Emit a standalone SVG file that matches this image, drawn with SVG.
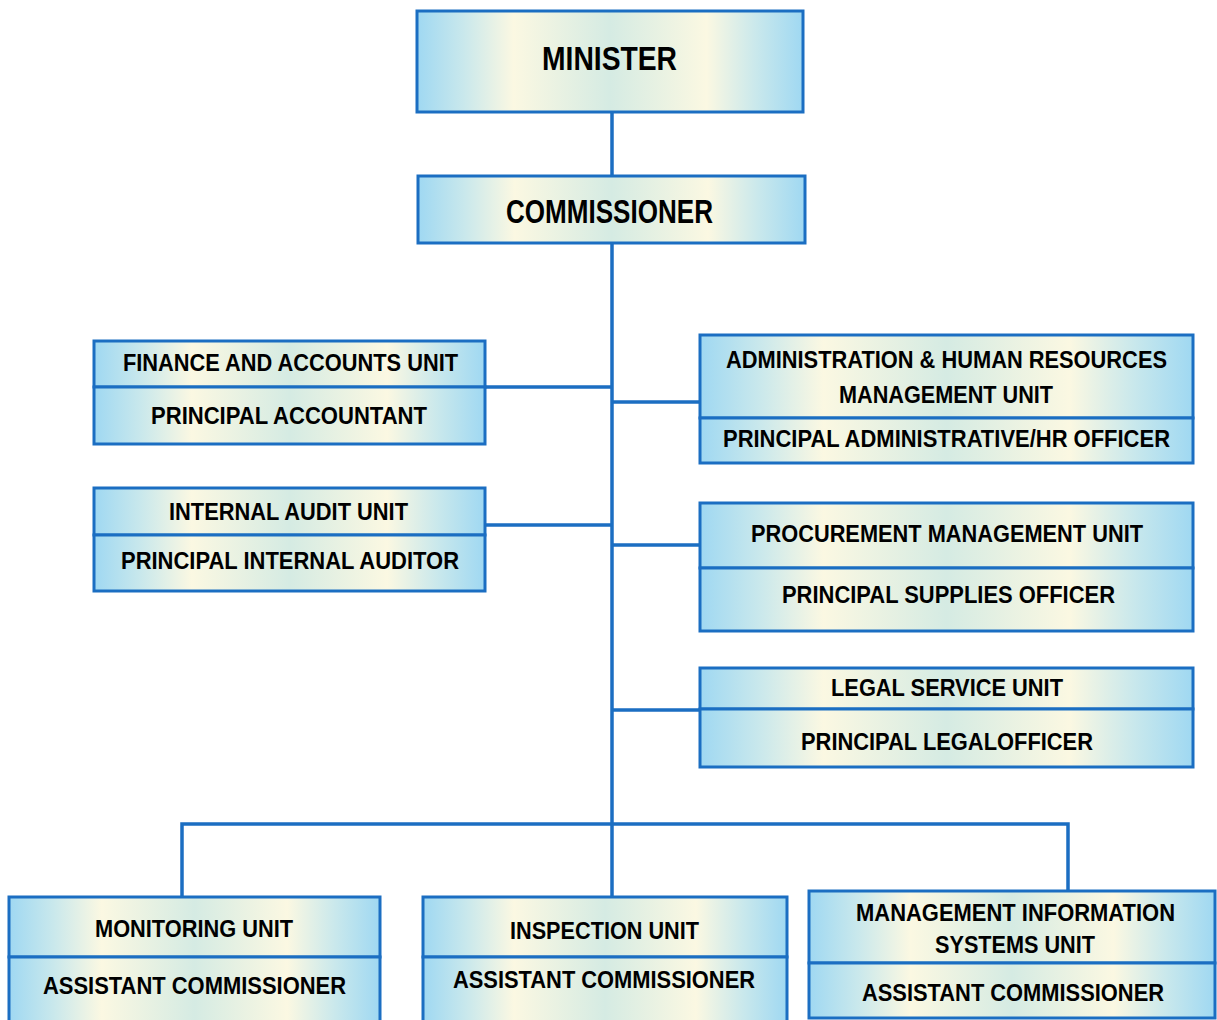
<svg xmlns="http://www.w3.org/2000/svg" width="1217" height="1020" viewBox="0 0 1217 1020">
<defs>
<linearGradient id="g" x1="0" y1="0" x2="1" y2="0">
<stop offset="0" stop-color="#9fd8f2"/>
<stop offset="0.12" stop-color="#c9e8ec"/>
<stop offset="0.25" stop-color="#fbf8e2"/>
<stop offset="0.5" stop-color="#d5ebe3"/>
<stop offset="0.75" stop-color="#fbf8e2"/>
<stop offset="0.88" stop-color="#c9e8ec"/>
<stop offset="1" stop-color="#9fd8f2"/>
</linearGradient>
</defs>
<style>
.box{fill:url(#g);stroke:#1b6ec2;stroke-width:3}
.div{stroke:#1b6ec2;stroke-width:3;fill:none}
.c{stroke:#1b6ec2;stroke-width:3.5;fill:none}
text{font-family:"Liberation Sans",Arial,sans-serif;font-weight:bold;fill:#000;text-anchor:middle;font-size:24px}
.big{font-size:33px}
</style>
<rect width="1217" height="1020" fill="#fff"/>
<g id="connectors">
<path class="c" d="M612 112V176M612 243V897M485 387H612M485 525H612M612 402H700M612 545H700M612 710H700M182 897V824H1068V891"/>
</g>
<g id="minister">
<rect class="box" x="417" y="11" width="386" height="101"/>
<text class="big" x="609.5" y="70" textLength="135" lengthAdjust="spacingAndGlyphs">MINISTER</text>
</g>
<g id="commissioner">
<rect class="box" x="418" y="176" width="387" height="67"/>
<text class="big" x="609.5" y="223" textLength="207" lengthAdjust="spacingAndGlyphs">COMMISSIONER</text>
</g>
<g id="finance">
<rect class="box" x="94" y="341" width="391" height="46"/>
<rect class="box" x="94" y="387" width="391" height="57"/>
<text x="290.5" y="371" textLength="335" lengthAdjust="spacingAndGlyphs">FINANCE AND ACCOUNTS UNIT</text>
<text x="289" y="424" textLength="276" lengthAdjust="spacingAndGlyphs">PRINCIPAL ACCOUNTANT</text>
</g>
<g id="audit">
<rect class="box" x="94" y="488" width="391" height="47"/>
<rect class="box" x="94" y="535" width="391" height="56"/>
<text x="288.5" y="520" textLength="239" lengthAdjust="spacingAndGlyphs">INTERNAL AUDIT UNIT</text>
<text x="290" y="569" textLength="338" lengthAdjust="spacingAndGlyphs">PRINCIPAL INTERNAL AUDITOR</text>
</g>
<g id="admin">
<rect class="box" x="700" y="335" width="493" height="83"/>
<rect class="box" x="700" y="418" width="493" height="45"/>
<text x="946.5" y="368" textLength="441" lengthAdjust="spacingAndGlyphs">ADMINISTRATION &amp; HUMAN RESOURCES</text>
<text x="946" y="403" textLength="214" lengthAdjust="spacingAndGlyphs">MANAGEMENT UNIT</text>
<text x="946.5" y="447" textLength="447" lengthAdjust="spacingAndGlyphs">PRINCIPAL ADMINISTRATIVE/HR OFFICER</text>
</g>
<g id="procurement">
<rect class="box" x="700" y="503" width="493" height="65"/>
<rect class="box" x="700" y="568" width="493" height="63"/>
<text x="947" y="542" textLength="392" lengthAdjust="spacingAndGlyphs">PROCUREMENT MANAGEMENT UNIT</text>
<text x="948.5" y="603" textLength="333" lengthAdjust="spacingAndGlyphs">PRINCIPAL SUPPLIES OFFICER</text>
</g>
<g id="legal">
<rect class="box" x="700" y="668" width="493" height="41"/>
<rect class="box" x="700" y="709" width="493" height="58"/>
<text x="947" y="696" textLength="232" lengthAdjust="spacingAndGlyphs">LEGAL SERVICE UNIT</text>
<text x="947" y="750" textLength="292" lengthAdjust="spacingAndGlyphs">PRINCIPAL LEGALOFFICER</text>
</g>
<g id="monitoring">
<rect class="box" x="9" y="897" width="371" height="60"/>
<rect class="box" x="9" y="957" width="371" height="70"/>
<text x="194" y="937" textLength="198" lengthAdjust="spacingAndGlyphs">MONITORING UNIT</text>
<text x="194.5" y="994" textLength="303" lengthAdjust="spacingAndGlyphs">ASSISTANT COMMISSIONER</text>
</g>
<g id="inspection">
<rect class="box" x="423" y="897" width="364" height="60"/>
<rect class="box" x="423" y="957" width="364" height="70"/>
<text x="604.5" y="939" textLength="189" lengthAdjust="spacingAndGlyphs">INSPECTION UNIT</text>
<text x="604" y="988" textLength="302" lengthAdjust="spacingAndGlyphs">ASSISTANT COMMISSIONER</text>
</g>
<g id="mis">
<rect class="box" x="809" y="891" width="406" height="72"/>
<rect class="box" x="809" y="963" width="406" height="55"/>
<text x="1015.5" y="921" textLength="319" lengthAdjust="spacingAndGlyphs">MANAGEMENT INFORMATION</text>
<text x="1015" y="953" textLength="160" lengthAdjust="spacingAndGlyphs">SYSTEMS UNIT</text>
<text x="1013" y="1001" textLength="302" lengthAdjust="spacingAndGlyphs">ASSISTANT COMMISSIONER</text>
</g>
</svg>
